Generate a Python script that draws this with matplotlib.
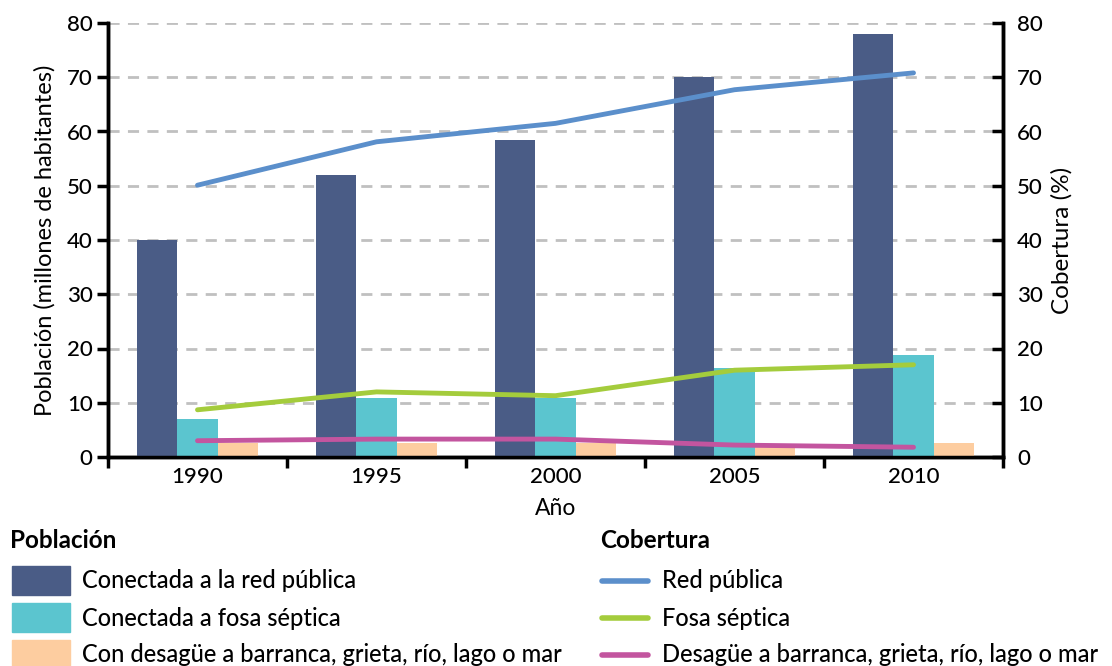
import matplotlib.pyplot as plt
import numpy as np
from matplotlib.patches import Rectangle
from matplotlib.lines import Line2D

plt.rcParams['font.family'] = ['Lato', 'DejaVu Sans']
plt.rcParams['font.weight'] = 'medium'

years = ['1990', '1995', '2000', '2005', '2010']
red_publica = [40, 52, 58.5, 70, 78]
fosa_septica = [7, 10.9, 10.8, 16.4, 18.8]
desague = [2.6, 2.6, 2.6, 2.4, 2.5]

cob_red = [50.1, 58.1, 61.5, 67.7, 70.8]
cob_fosa = [8.7, 12.0, 11.3, 16.0, 17.0]
cob_desague = [3.0, 3.3, 3.3, 2.2, 1.8]

c_dark = '#4a5c86'
c_cyan = '#5bc5cf'
c_peach = '#fdcda0'
c_blue = '#5b8fcb'
c_green = '#a4cc3c'
c_mag = '#c3559f'

fig = plt.figure(figsize=(11.12, 6.66), dpi=100)
ax = fig.add_axes([108 / 1112, 1 - 457 / 666, 895 / 1112, 434 / 666])
ax2 = ax.twinx()

x = np.arange(len(years))
w = 0.224
ax.bar(x - w, red_publica, w, color=c_dark, zorder=3)
ax.bar(x, fosa_septica, w, color=c_cyan, zorder=3)
ax.bar(x + w, desague, w, color=c_peach, zorder=3)

ax2.plot(x, cob_red, color=c_blue, lw=3.5, solid_capstyle='round')
ax2.plot(x, cob_fosa, color=c_green, lw=3.5, solid_capstyle='round')
ax2.plot(x, cob_desague, color=c_mag, lw=3.5, solid_capstyle='round')

for a in (ax, ax2):
    a.set_ylim(0, 80)
    a.set_yticks(range(0, 81, 10))
    a.set_xlim(-0.5, 4.5)
    a.spines['top'].set_visible(False)
    for s in ('left', 'right', 'bottom'):
        a.spines[s].set_linewidth(2.5)
    a.tick_params(axis='y', labelsize=16, width=2.5, length=8, pad=3)
ax2.tick_params(axis='y', direction='in', pad=10)

ax.yaxis.grid(True, linestyle=(0, (4, 3)), color='#c0c0c0', lw=2)
ax.set_axisbelow(True)

ax.set_xticks(np.arange(-0.5, 5, 1))
ax.set_xticklabels([])
ax.set_xticks(x, minor=True)
ax.set_xticklabels(years, minor=True)
ax.tick_params(axis='x', which='major', width=2.5, length=8)
ax.tick_params(axis='x', which='minor', length=0, labelsize=16, pad=7)

ax.set_ylabel('Población (millones de habitantes)', fontsize=17, labelpad=8)
ax2.set_ylabel('Cobertura (%)', fontsize=17.5, labelpad=6)
ax.set_xlabel('Año', fontsize=16.5, labelpad=8)

# legend drawn by hand, two columns
def px(xp, yp):
    return xp / 1112, 1 - yp / 666

fig.text(*px(10, 541), 'Población', fontsize=17.5, fontweight='bold', va='center')
fig.text(*px(600, 541), 'Cobertura', fontsize=17.5, fontweight='bold', va='center')
bar_items = [(c_dark, 'Conectada a la red pública'),
             (c_cyan, 'Conectada a fosa séptica'),
             (c_peach, 'Con desagüe a barranca, grieta, río, lago o mar')]
line_items = [(c_blue, 'Red pública'),
              (c_green, 'Fosa séptica'),
              (c_mag, 'Desagüe a barranca, grieta, río, lago o mar')]
for i, (col, lab) in enumerate(bar_items):
    yc = 581 + i * 37
    x0, y0 = px(12, yc + 14)
    fig.add_artist(Rectangle((x0, y0), 58 / 1112, 29 / 666, color=col,
                             transform=fig.transFigure))
    fig.text(*px(82, yc), lab, fontsize=17, va='center')
for i, (col, lab) in enumerate(line_items):
    yc = 581 + i * 37
    xa, ya = px(602, yc)
    xb, _ = px(648, yc)
    fig.add_artist(Line2D([xa, xb], [ya, ya], color=col, lw=4,
                          solid_capstyle='round', transform=fig.transFigure))
    fig.text(*px(662, yc), lab, fontsize=17, va='center')

fig.savefig('out.png', dpi=100)
